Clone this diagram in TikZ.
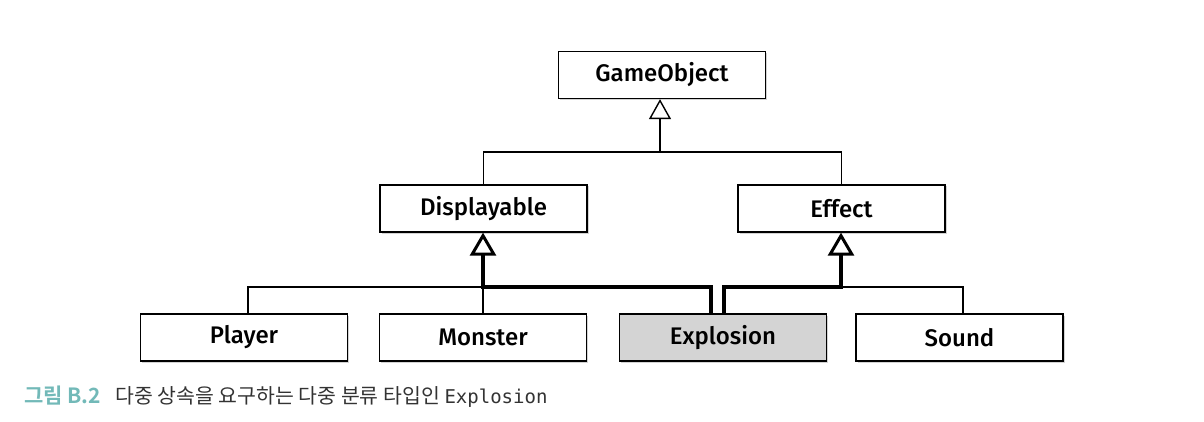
\documentclass[tikz,border=0pt]{standalone}
\usepackage{fontspec}
\setmainfont{Fira Sans}
\newfontfamily\boxfont{Fira Sans Medium}
\newfontfamily\krfont{Noto Sans CJK KR}
\newfontfamily\krbold{Noto Sans CJK KR Bold}
\newfontfamily\monofont{DejaVu Sans Mono}
\usetikzlibrary{shadows,arrows.meta}
\definecolor{capteal}{HTML}{72B9B8}
\definecolor{capgray}{HTML}{333333}
\definecolor{hlgray}{HTML}{D4D4D4}
\begin{document}
\begin{tikzpicture}[x=1pt,y=-1pt,
  cls/.style={draw=black,line width=1.3pt,fill=white,minimum width=207pt,minimum height=47pt,inner sep=0pt,
    font=\boxfont\fontsize{24}{26}\selectfont,
    drop shadow={opacity=0.35,shadow xshift=1.5pt,shadow yshift=-1.5pt}},
  thin/.style={line width=1.4pt},
  thick/.style={line width=4pt,line join=miter},
  inh/.style={-{Triangle[open,width=22pt,length=20pt,line width=1.4pt]}},
  inhthick/.style={-{Triangle[open,width=26pt,length=23pt,line width=3pt]}}]
\useasboundingbox (0,0) rectangle (1204,422);
\node[cls] (go) at (662,75) {GameObject};
\node[cls] (disp) at (483.5,208.5) {Displayable};
\node[cls] (eff) at (841.5,208.5) {Effect};
\node[cls] (player) at (244,337.5) {Player};
\node[cls] (monster) at (483,337.5) {Monster};
\node[cls,fill=hlgray] (expl) at (723,337.5) {Explosion};
\node[cls] (sound) at (959.5,337.5) {Sound};
% top level
\coordinate (j1) at (660,152);
\draw[thin] (disp.north) |- (j1) -| (eff.north);
\draw[thin,inh] (j1) -- (go.south -| j1);
% bottom level thin lines
\coordinate (jl) at (483,287);
\coordinate (jr) at (841,287);
\draw[thin] ([xshift=4pt]player.north) |- (jl);
\draw[thin] (monster.north) -- (jl);
\draw[thin] ([xshift=3.5pt]sound.north) |- (jr);
% thick lines from explosion
\draw[thick,inhthick] ([xshift=-12pt]expl.north) |- (jl) -- (disp.south -| jl);
\draw[thick,inhthick] ([xshift=1pt]expl.north) |- (jr) -- (eff.south -| jr);
% caption
\node[anchor=base west,inner sep=0pt,text=capteal,font=\krbold\fontsize{21}{24}\selectfont] (cap1) at (24,403) {그림 B.2};
\node[anchor=base west,inner sep=0pt,text=capgray,font=\krfont\fontsize{20.5}{24}\selectfont] (cap2) at (115,403) {다중 상속을 요구하는 다중 분류 타입인 {\monofont\fontsize{19}{24}\selectfont Explosion}};
\end{tikzpicture}
\end{document}
